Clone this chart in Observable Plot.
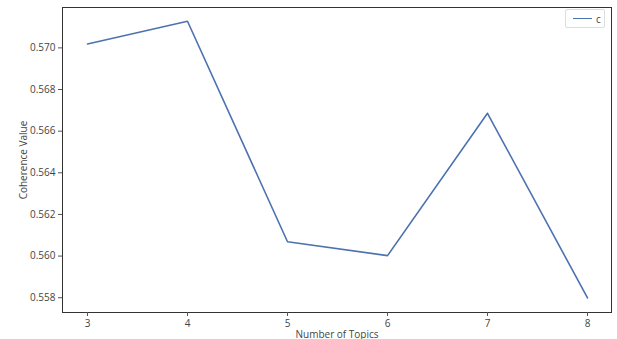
<!DOCTYPE html>
<html>
<head>
<meta charset="utf-8">
<script src="https://cdn.jsdelivr.net/npm/d3@7"></script>
<script src="https://cdn.jsdelivr.net/npm/@observablehq/plot@0.6"></script>
<style>
  html, body { margin: 0; padding: 0; background: #fff; }
  #wrap { position: relative; width: 617px; height: 339px; }
  #legend {
    position: absolute; left: 565px; top: 9px; width: 40px; height: 19px;
    border: 1px solid #ddd; border-radius: 2px; background: #fff; box-sizing: border-box;
    font: 10px "Open Sans", sans-serif; color: #444;
  }
  #legend .sw { position: absolute; left: 7px; top: 8px; width: 19px; height: 0; border-top: 1.5px solid #4c72b0; }
  #legend .lb { position: absolute; left: 30px; top: 2px; }
</style>
</head>
<body>
<div id="wrap"><div id="legend"><span class="sw"></span><span class="lb">c</span></div></div>
<script>
const topics = [3, 4, 5, 6, 7, 8];
const coherence = [0.57019, 0.57128, 0.56069, 0.56002, 0.56686, 0.55799];
const yTicks = [0.558, 0.560, 0.562, 0.564, 0.566, 0.568, 0.570];
const seriesName = "c";

const data = topics.map((t, i) => ({topic: t, value: coherence[i], series: seriesName}));

const chart = Plot.plot({
  width: 617,
  height: 339,
  marginLeft: 62,
  marginTop: 7,
  marginRight: 6,
  marginBottom: 27,
  style: {fontFamily: "'Open Sans', sans-serif", fontSize: "10px", color: "#444", background: "#fff"},
  x: {domain: [2.75, 8.24]},
  y: {domain: [0.55729, 0.57194]},
  marks: [
    Plot.frame({stroke: "#333", strokeWidth: 1}),
    Plot.axisX({ticks: topics, tickFormat: d => String(d), tickSize: 4, tickPadding: 3,
      label: "Number of Topics", labelAnchor: "center", labelArrow: "none", labelOffset: 25, stroke: "#555"}),
    Plot.axisY({ticks: yTicks, tickFormat: d3.format(".3f"), tickSize: 4, tickPadding: 3,
      label: "Coherence Value", labelAnchor: "center", labelArrow: "none", labelOffset: 43, stroke: "#555"}),
    Plot.line(data, {x: "topic", y: "value", stroke: "#4c72b0", strokeWidth: 1.6})
  ]
});
document.getElementById("wrap").prepend(chart);
chart.style.display = "block";
</script>
</body>
</html>
